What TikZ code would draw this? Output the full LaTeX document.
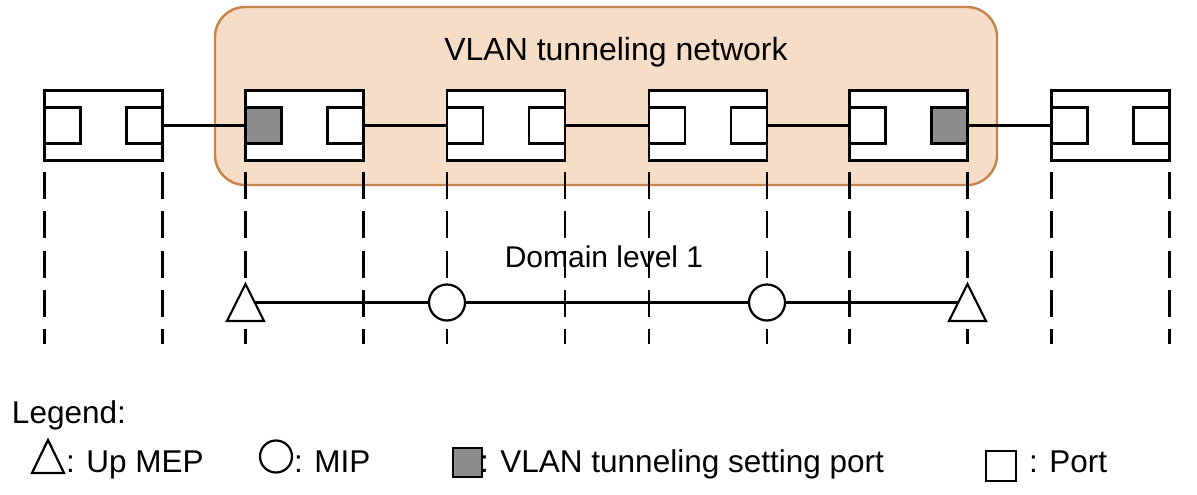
\documentclass[tikz,border=0pt]{standalone}
\usepackage{fontspec}
\setmainfont{Liberation Sans}
\usetikzlibrary{shapes.geometric}
\definecolor{netfill}{RGB}{245,221,199}
\definecolor{netdraw}{RGB}{196,131,74}
\definecolor{portgrey}{RGB}{140,140,140}
\tikzset{
  every node/.style={outer sep=0pt, inner sep=0pt},
  netbox/.style={draw=netdraw, fill=netfill, line width=2.4pt, rounded corners=30pt, minimum width=782pt, minimum height=178pt},
  switchbox/.style={draw, fill=white, line width=2.8pt, minimum width=118pt, minimum height=70.5pt},
  portbox/.style={draw, line width=2.8pt, minimum width=36pt, minimum height=36pt},
  link/.style={line width=2.2pt},
  vdash/.style={line width=2.4pt, dash pattern=on 27pt off 12.3pt},
  mep/.style={draw, fill=white, line width=2.2pt, isosceles triangle, isosceles triangle stretches, shape border rotate=90, minimum width=37pt, minimum height=37pt},
  mip/.style={draw, fill=white, line width=2.2pt, circle, minimum size=36pt},
  lbl/.style={font=\fontsize{31.5}{36}\selectfont, anchor=base west},
}
\begin{document}
\begin{tikzpicture}[x=1pt, y=-1pt]
\useasboundingbox (0,0) rectangle (1197,495);
% VLAN tunneling network area
\node[netbox] (net) at (606,96) {};
\node[font=\fontsize{32}{38}\selectfont, anchor=base] (title) at (616,60) {VLAN tunneling network};
% switches
\foreach \i/\x/\lf/\rf in {1/44.5/white/white, 2/245.5/portgrey/white, 3/447/white/white, 4/649/white/white, 5/849.5/white/portgrey, 6/1051.5/white/white}{
  \node[switchbox, anchor=west] (s\i) at (\x,125.5) {};
  \node[portbox, fill=\lf, anchor=west] (l\i) at (s\i.west) {};
  \node[portbox, fill=\rf, anchor=east] (r\i) at (s\i.east) {};
}
\foreach \a/\b in {1/2,2/3,3/4,4/5,5/6}{
  \draw[link] (r\a.east) -- (l\b.west);
}
% dashed vertical lines
\coordinate (dtop) at (0,172);
\coordinate (dbot) at (0,344);
\foreach \i in {1,...,6}{
  \draw[vdash] (s\i.west |- dtop) -- (s\i.west |- dbot);
  \draw[vdash] (s\i.east |- dtop) -- (s\i.east |- dbot);
}
% domain level 1
\node[font=\fontsize{30}{36}\selectfont, anchor=base] (dom) at (604,267) {Domain level 1};
\coordinate (dl) at (0,302.5);
\draw[link] (s2.west |- dl) -- (s5.east |- dl);
\node[mep, anchor=apex] (t1) at (s2.west |- 0,284) {};
\node[mip] (c1) at (s3.west |- dl) {};
\node[mip] (c2) at (767,302.5) {};
\node[mep, anchor=apex] (t2) at (s5.east |- 0,284) {};
% legend
\node[lbl] (leg) at (12,423) {Legend:};
\node[mep, minimum width=32pt, minimum height=33pt, anchor=apex] (lt) at (48,440) {};
\node[lbl] (ltx) at (66,472) {: Up MEP};
\node[mip, minimum size=32pt] (lc) at (276,456.5) {};
\node[lbl] (lcx) at (294,472) {: MIP};
\node[lbl] (lgx) at (480,472) {: VLAN tunneling setting port};
\node[portbox, fill=portgrey, minimum width=29pt, minimum height=29pt] (lg) at (467.5,462.5) {};
\node[portbox, minimum width=30pt, minimum height=30pt] (lp) at (1001,466) {};
\node[lbl] (lpx) at (1029,472) {: Port};
\end{tikzpicture}
\end{document}
